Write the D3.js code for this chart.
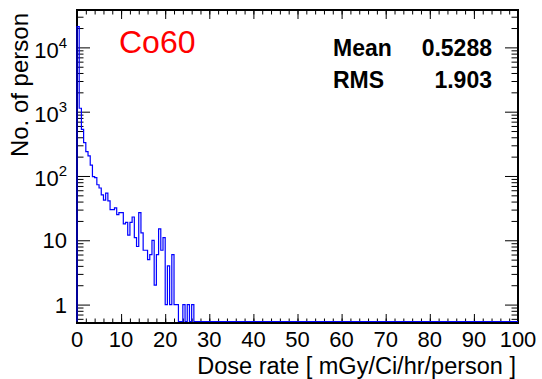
<!DOCTYPE html>
<html>
<head>
<meta charset="utf-8">
<script src="https://cdn.jsdelivr.net/npm/d3@7"></script>
<style>
  body { margin: 0; background: #fff; }
  svg { display: block; }
  text { font-family: "Liberation Sans", Arial, Helvetica, sans-serif; }
</style>
</head>
<body>
<svg id="chart" width="542" height="379"></svg>
<script>
// Histogram definition: 200 bins over 0..100, width 0.5
const histRange = [0, 100];
const binWidth = 0.5;
// Entries per bin, starting at 0; bins beyond the list are empty
const counts = [
  21000, 1130, 530, 330, 240, 205, 148, 98, 94, 73,
  65, 51, 42, 54, 41, 30, 30, 32, 25, 27,
  27, 18, 19, 12, 19, 23, 11, 8, 27, 13,
  7, 7, 5, 6, 10, 2, 6, 15, 7, 11,
  1, 4, 1, 6, 1, 1, 0, 0, 1, 0,
  1, 0, 1
];

const xMajorTicks = [0, 10, 20, 30, 40, 50, 60, 70, 80, 90, 100];
const xMinorTicks = d3.range(0, 101, 2);
const yDecadeExponents = [0, 1, 2, 3, 4];
const yRange = [0.517, 38150];

const histName = "Co60";
const statNames = ["Mean", "RMS"];
const statValues = ["0.5288", "1.903"];
const xTitle = "Dose rate [ mGy/Ci/hr/person ]";
const yTitle = "No. of person";

const frame = { left: 77, right: 518, top: 10, bottom: 323 };
const svg = d3.select("#chart");

const x = d3.scaleLinear().domain(histRange).range([frame.left, frame.right]);
const y = d3.scaleLog().domain(yRange).range([frame.bottom, frame.top]);

// ---- axes (ticks drawn inward on all four sides) ----
function styleAxis(g) {
  g.select(".domain").remove();
  g.selectAll(".tick line").attr("stroke", "#000").attr("stroke-width", 1);
  g.selectAll(".tick text").remove();
}
const yMinor = y.ticks(40).filter(v => Math.abs(Math.log10(v) - Math.round(Math.log10(v))) > 1e-6);
const yMajor = yDecadeExponents.map(e => Math.pow(10, e));

svg.append("g").attr("transform", `translate(0,${frame.bottom})`)
  .call(d3.axisBottom(x).tickValues(xMajorTicks).tickSize(-9)).call(styleAxis);
svg.append("g").attr("transform", `translate(0,${frame.bottom})`)
  .call(d3.axisBottom(x).tickValues(xMinorTicks).tickSize(-4.5)).call(styleAxis);
svg.append("g").attr("transform", `translate(0,${frame.top})`)
  .call(d3.axisTop(x).tickValues(xMajorTicks).tickSize(-9)).call(styleAxis);
svg.append("g").attr("transform", `translate(0,${frame.top})`)
  .call(d3.axisTop(x).tickValues(xMinorTicks).tickSize(-4.5)).call(styleAxis);

svg.append("g").attr("transform", `translate(${frame.left},0)`)
  .call(d3.axisLeft(y).tickValues(yMajor).tickSize(-13)).call(styleAxis);
svg.append("g").attr("transform", `translate(${frame.left},0)`)
  .call(d3.axisLeft(y).tickValues(yMinor).tickSize(-6.5)).call(styleAxis);
svg.append("g").attr("transform", `translate(${frame.right},0)`)
  .call(d3.axisRight(y).tickValues(yMajor).tickSize(-13)).call(styleAxis);
svg.append("g").attr("transform", `translate(${frame.right},0)`)
  .call(d3.axisRight(y).tickValues(yMinor).tickSize(-6.5)).call(styleAxis);

// ---- frame ----
svg.append("rect")
  .attr("x", frame.left).attr("y", frame.top)
  .attr("width", frame.right - frame.left).attr("height", frame.bottom - frame.top)
  .attr("fill", "none").attr("stroke", "#000").attr("stroke-width", 2);

// ---- histogram outline ----
const zeroLevel = frame.bottom - 1.5;
const yOf = c => c > 0 ? y(c) : zeroLevel;
const corners = [[histRange[0], 0]];
counts.forEach((c, i) => {
  corners.push([i * binWidth, c]);
  corners.push([(i + 1) * binWidth, c]);
});
corners.push([counts.length * binWidth, 0]);
corners.push([histRange[1], 0]);
const line = d3.line().x(d => x(d[0])).y(d => yOf(d[1]));
svg.append("path")
  .attr("d", line(corners))
  .attr("fill", "none").attr("stroke", "#0000ff").attr("stroke-width", 1.2);

// ---- tick labels ----
svg.append("g").selectAll("text").data(xMajorTicks).join("text")
  .attr("x", d => x(d)).attr("y", 346.5)
  .attr("text-anchor", "middle").attr("font-size", 22)
  .text(d => d);

const yl = svg.append("g").selectAll("text").data(yDecadeExponents).join("text")
  .attr("x", 67)
  .attr("y", e => y(Math.pow(10, e)) + (e >= 2 ? 10.5 : 8))
  .attr("text-anchor", "end").attr("font-size", 22);
yl.each(function (e) {
  const t = d3.select(this);
  if (e === 0) t.text("1");
  else if (e === 1) t.text("10");
  else {
    t.append("tspan").text("10");
    t.append("tspan").attr("font-size", 15).attr("dy", -10).text(e);
  }
});

// ---- titles ----
svg.append("text")
  .attr("x", 516).attr("y", 374)
  .attr("text-anchor", "end").attr("font-size", 23.5)
  .text(xTitle);
svg.append("text")
  .attr("transform", "translate(27.5,13) rotate(-90)")
  .attr("text-anchor", "end").attr("font-size", 24)
  .text(yTitle);

// ---- histogram name ----
svg.append("text")
  .attr("x", 119).attr("y", 52.5)
  .attr("font-size", 32).attr("fill", "#ff0000")
  .text(histName);

// ---- statistics ----
const statRows = [56, 88.3];
svg.append("g").selectAll("text").data(statNames).join("text")
  .attr("x", 333).attr("y", (d, i) => statRows[i])
  .attr("font-size", 23).attr("font-weight", "bold")
  .text(d => d);
svg.append("g").selectAll("text").data(statValues).join("text")
  .attr("x", 492).attr("y", (d, i) => statRows[i])
  .attr("text-anchor", "end")
  .attr("font-size", 23).attr("font-weight", "bold")
  .text(d => d);
</script>
</body>
</html>
